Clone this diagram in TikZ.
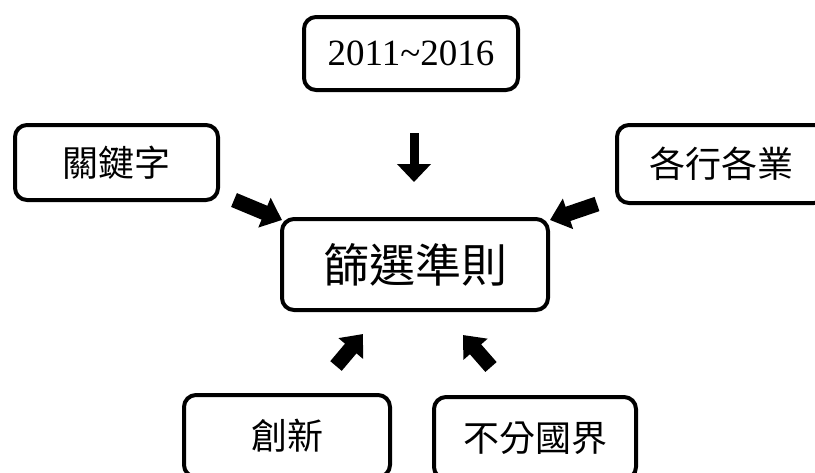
\documentclass[tikz,border=0pt]{standalone}
\usepackage{fontspec}
\setmainfont{Liberation Serif}
\newfontfamily\cjk{Noto Sans CJK TC}
\usetikzlibrary{arrows.meta}
\begin{document}
\begin{tikzpicture}[x=1pt,y=-1pt,
  box/.style={draw=black,line width=4pt,rounded corners=12pt,fill=white,inner sep=0pt,align=center},
  smallbox/.style={box,font=\cjk\fontsize{36pt}{40pt}\selectfont},
  blockarrow/.style={line width=15pt,-{Triangle[length=19pt,width=31pt]}},
  downarrow/.style={line width=9pt,-{Triangle[length=18pt,width=33pt]}}]
\useasboundingbox[fill=white] (0,0) rectangle (815,472);
\node[box,minimum width=214pt,minimum height=73pt,font=\fontsize{37pt}{40pt}\selectfont] (years) at (411,53.5) {2011\textasciitilde2016};
\node[box,minimum width=266pt,minimum height=91pt,font=\cjk\fontsize{46pt}{50pt}\selectfont] (crit) at (415,264.5) {篩選準則};
\node[smallbox,minimum width=203pt,minimum height=75pt] (kw) at (116.5,162.5) {關鍵字};
\node[smallbox,minimum width=209pt,minimum height=78pt] (ind) at (721.5,164) {各行各業};
\node[smallbox,minimum width=206pt,minimum height=82pt] (inn) at (287,436) {創新};
\node[smallbox,minimum width=202pt,minimum height=82pt] (bor) at (535,438) {不分國界};
\coordinate (d1) at (414,133);
\coordinate (d2) at (414,182);
\coordinate (l1) at (234,200);
\coordinate (l2) at (282,220);
\coordinate (r1) at (597,204);
\coordinate (r2) at (550,220);
\coordinate (bl1) at (336,366);
\coordinate (bl2) at (363,334);
\coordinate (br1) at (491,367);
\coordinate (br2) at (463,335);
\draw[downarrow] (d1) -- (d2);
\draw[blockarrow] (l1) -- (l2);
\draw[blockarrow] (r1) -- (r2);
\draw[blockarrow] (bl1) -- (bl2);
\draw[blockarrow] (br1) -- (br2);
\end{tikzpicture}
\end{document}
